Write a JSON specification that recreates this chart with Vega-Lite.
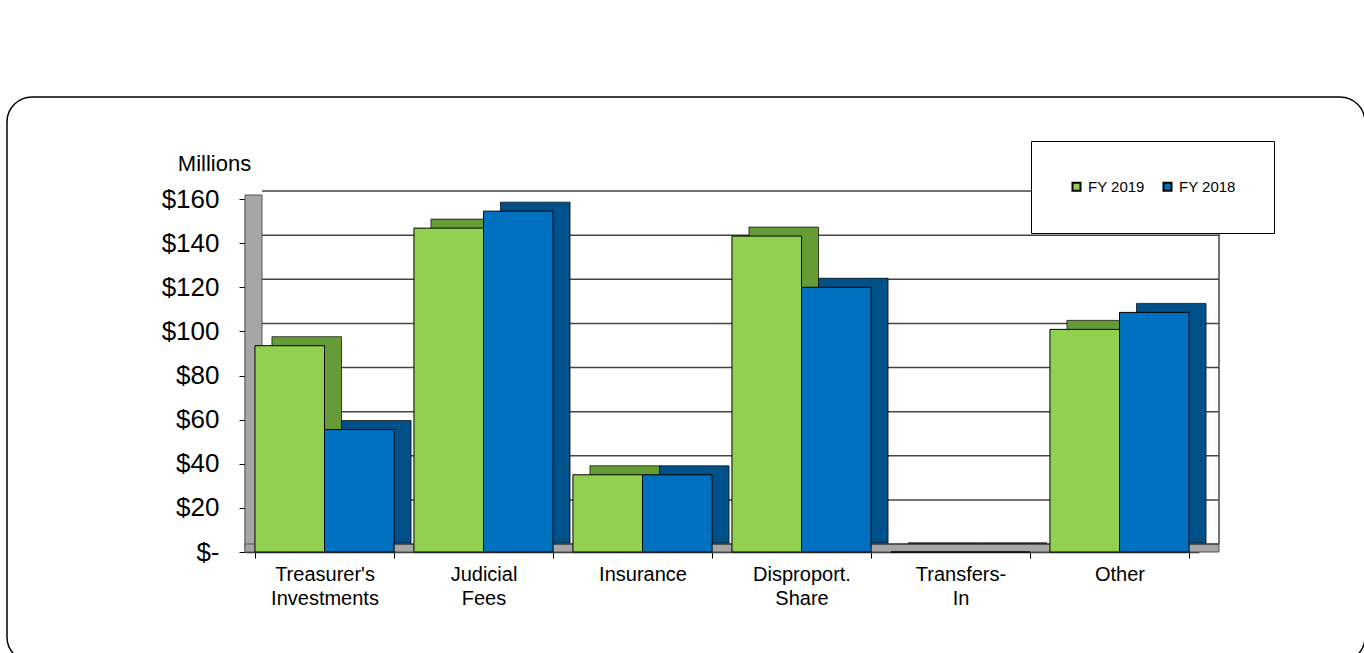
{
  "$schema": "https://vega.github.io/schema/vega-lite/v6.json",
  "autosize": "none",
  "padding": {"left": 7, "top": 97, "right": 0, "bottom": 0},
  "width": 1358,
  "height": 565,
  "background": "white",
  "config": {
    "view": {"stroke": "black", "strokeWidth": 1.5, "cornerRadius": 25, "fill": "white"},
    "font": "Liberation Sans"
  },
  "data": {
    "values": [
      {"cat": "Treasurer's Investments", "year": "FY 2019", "value": 93.5},
      {"cat": "Treasurer's Investments", "year": "FY 2018", "value": 55.5},
      {"cat": "Judicial Fees", "year": "FY 2019", "value": 146.8},
      {"cat": "Judicial Fees", "year": "FY 2018", "value": 154.5},
      {"cat": "Insurance", "year": "FY 2019", "value": 35},
      {"cat": "Insurance", "year": "FY 2018", "value": 35},
      {"cat": "Disproport. Share", "year": "FY 2019", "value": 143.2},
      {"cat": "Disproport. Share", "year": "FY 2018", "value": 120},
      {"cat": "Transfers-In", "year": "FY 2019", "value": 0},
      {"cat": "Transfers-In", "year": "FY 2018", "value": 0},
      {"cat": "Other", "year": "FY 2019", "value": 100.9},
      {"cat": "Other", "year": "FY 2018", "value": 108.6}
    ]
  },
  "resolve": {"scale": {"x": "independent", "y": "independent", "color": "independent"}, "axis": {"x": "independent", "y": "independent"}, "legend": {"color": "independent"}},
  "layer": [
    {
      "data": {"values": [{"part": "wall"}]},
      "mark": {"type": "rect", "fill": "#A6A6A6", "stroke": "#555555", "strokeWidth": 1},
      "encoding": {
        "x": {"datum": 0, "type": "quantitative", "scale": {"domain": [0, 974], "range": [238, 1212], "nice": false, "zero": false}, "axis": null},
        "x2": {"datum": 17},
        "y": {"datum": 160, "type": "quantitative", "scale": {"domain": [0, 160], "range": [451, 98], "nice": false, "zero": false}, "axis": null},
        "y2": {"datum": 0}
      }
    },
    {
      "data": {"values": [{"part": "floor"}]},
      "mark": {"type": "rect", "fill": "#A6A6A6", "stroke": "#555555", "strokeWidth": 1},
      "encoding": {
        "x": {"datum": 0, "type": "quantitative", "scale": {"domain": [0, 974], "range": [238, 1212], "nice": false, "zero": false}, "axis": null},
        "x2": {"datum": 974},
        "y": {"datum": 0, "type": "quantitative", "scale": {"domain": [0, 8], "range": [455, 447], "nice": false, "zero": false}, "axis": null},
        "y2": {"datum": 8}
      }
    },
    {
      "data": {"values": [{"v": 0}, {"v": 20}, {"v": 40}, {"v": 60}, {"v": 80}, {"v": 100}, {"v": 120}, {"v": 140}, {"v": 160}]},
      "mark": {"type": "rule", "stroke": "#444444", "strokeWidth": 1.5},
      "encoding": {
        "x": {"datum": 17, "type": "quantitative", "scale": {"domain": [0, 974], "range": [238, 1212], "nice": false, "zero": false}, "axis": null},
        "x2": {"datum": 974},
        "y": {"field": "v", "type": "quantitative", "scale": {"domain": [0, 160], "range": [447, 94], "nice": false, "zero": false}, "axis": null}
      }
    },
    {
      "data": {"values": [{"part": "rightedge"}]},
      "mark": {"type": "rule", "stroke": "#444444", "strokeWidth": 1.5},
      "encoding": {
        "x": {"datum": 974, "type": "quantitative", "scale": {"domain": [0, 974], "range": [238, 1212], "nice": false, "zero": false}, "axis": null},
        "y": {"datum": 0, "type": "quantitative", "scale": {"domain": [0, 160], "range": [447, 94], "nice": false, "zero": false}, "axis": null},
        "y2": {"datum": 160}
      }
    },
    {
      "mark": {"type": "bar", "stroke": "black", "strokeWidth": 0.7},
      "encoding": {
        "x": {"field": "cat", "type": "nominal", "sort": ["Treasurer's Investments", "Judicial Fees", "Insurance", "Disproport. Share", "Transfers-In", "Other"], "scale": {"range": [255, 1209], "paddingInner": 0.125, "paddingOuter": 0.0625}, "axis": null},
        "xOffset": {"field": "year", "type": "nominal", "sort": ["FY 2019", "FY 2018"], "scale": {"paddingInner": 0, "paddingOuter": 0}},
        "y": {"field": "value", "type": "quantitative", "stack": null, "scale": {"domain": [0, 160], "range": [446, 93], "nice": false, "zero": false}, "axis": null},
        "color": {"field": "year", "type": "nominal", "scale": {"domain": ["FY 2019", "FY 2018"], "range": ["#669C36", "#00508A"]}, "legend": null}
      }
    },
    {
      "mark": {"type": "bar", "stroke": "black", "strokeWidth": 1},
      "encoding": {
        "x": {
          "field": "cat", "type": "nominal",
          "sort": ["Treasurer's Investments", "Judicial Fees", "Insurance", "Disproport. Share", "Transfers-In", "Other"],
          "scale": {"range": [238, 1192], "paddingInner": 0.125, "paddingOuter": 0.0625},
          "axis": {
            "title": null, "offset": -110, "tickBand": "extent", "labelAngle": 0,
            "labelExpr": "datum.label == 'Transfers-In' ? ['Transfers-', 'In'] : split(datum.label, ' ')",
            "labelFontSize": 20, "labelLineHeight": 24, "labelPadding": 6, "labelColor": "black", "labelLimit": 0,
            "tickSize": 6, "tickColor": "black", "domainColor": "#333333", "domainWidth": 1.5
          }
        },
        "xOffset": {"field": "year", "type": "nominal", "sort": ["FY 2019", "FY 2018"], "scale": {"paddingInner": 0, "paddingOuter": 0}},
        "y": {
          "field": "value", "type": "quantitative", "stack": null,
          "scale": {"domain": [0, 160], "range": [455, 102], "nice": false, "zero": false},
          "axis": {
            "title": "Millions", "titleAngle": 0, "titleX": -31, "titleY": 66, "titleAlign": "center", "titleBaseline": "middle",
            "titleFontSize": 22, "titleFontWeight": "normal", "titleColor": "black",
            "offset": -238, "values": [0, 20, 40, 60, 80, 100, 120, 140, 160],
            "labelExpr": "datum.value == 0 ? '$-\u00a0\u00a0' : '$' + datum.value",
            "labelFontSize": 26, "labelPadding": 20, "labelColor": "black",
            "tickSize": 6, "tickColor": "black", "domainColor": "#333333", "domainWidth": 1.5, "grid": false
          }
        },
        "color": {
          "field": "year", "type": "nominal",
          "scale": {"domain": ["FY 2019", "FY 2018"], "range": ["#92D050", "#0070C0"]},
          "legend": {
            "title": null, "orient": "none", "legendX": 1024, "legendY": 44, "direction": "horizontal",
            "padding": 38, "strokeColor": "black", "fillColor": "white",
            "symbolType": "square", "symbolSize": 64, "symbolStrokeColor": "black", "symbolStrokeWidth": 2,
            "labelFontSize": 15, "labelColor": "black", "labelOffset": 4, "columnPadding": 14
          }
        }
      }
    }
  ]
}
